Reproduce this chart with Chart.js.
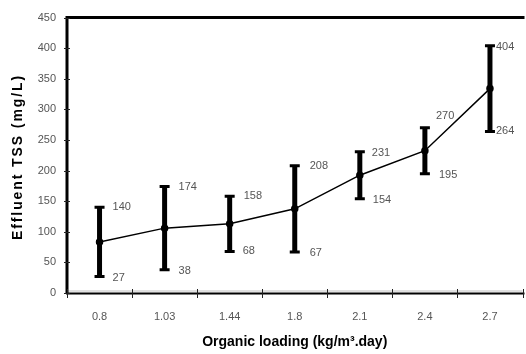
<!DOCTYPE html>
<html>
<head>
<meta charset="utf-8">
<script src="https://cdn.jsdelivr.net/npm/chart.js@4/dist/chart.umd.min.js"></script>
<style>
  html, body { margin: 0; padding: 0; background: #fff; overflow: hidden; }
  #wrap { position: absolute; left: 0; top: 0; width: 528px; height: 354px; }
</style>
</head>
<body>
<div id="wrap"><canvas id="c" width="528" height="354"></canvas></div>
<script>
// Organic loading rates (kg/m3.day)
const categories = ['0.8', '1.03', '1.44', '1.8', '2.1', '2.4', '2.7'];
// Effluent TSS (mg/L): mean, minimum and maximum at each loading
const meanTSS = [83.5, 106, 113, 137.5, 192.5, 232.5, 334];
const minTSS  = [27, 38, 68, 67, 154, 195, 264];
const maxTSS  = [140, 174, 158, 208, 231, 270, 404];
// Y axis range
const yMin = 0, yMax = 450, yStep = 50;

const FONT = '"Liberation Sans", Arial, sans-serif';

// Frame, axis ticks, error bars, value labels and y title
const framePlugin = {
  id: 'frame',
  beforeDatasetsDraw(chart) {
    const { ctx, chartArea: a, scales: { x, y } } = chart;
    ctx.save();
    // faint line along the zero level
    ctx.strokeStyle = '#d6d6d6';
    ctx.lineWidth = 1.5;
    ctx.beginPath();
    ctx.moveTo(a.left, a.bottom - 2);
    ctx.lineTo(a.right, a.bottom - 2);
    ctx.stroke();
    // frame lines
    ctx.strokeStyle = '#000';
    ctx.lineWidth = 3;
    ctx.beginPath();
    ctx.moveTo(a.left, a.bottom);
    ctx.lineTo(a.left, a.top);
    ctx.lineTo(a.right + 2, a.top);
    ctx.stroke();
    ctx.lineWidth = 2;
    ctx.beginPath();
    ctx.moveTo(a.left - 1, a.bottom + 0.5);
    ctx.lineTo(a.right + 2, a.bottom + 0.5);
    ctx.stroke();
    // y tick marks crossing the axis
    ctx.lineWidth = 1;
    ctx.strokeStyle = '#222';
    y.ticks.forEach(t => {
      const py = Math.round(y.getPixelForValue(t.value)) + 0.5;
      ctx.beginPath();
      ctx.moveTo(a.left - 3, py);
      ctx.lineTo(a.left + 3, py);
      ctx.stroke();
    });
    // x tick marks at category boundaries
    for (let i = 0; i <= categories.length; i++) {
      const px = Math.round(x.getPixelForValue(i - 0.5)) + 0.5;
      ctx.beginPath();
      ctx.moveTo(px, a.bottom - 4);
      ctx.lineTo(px, a.bottom + 5);
      ctx.stroke();
    }
    // error bars (min to max)
    ctx.strokeStyle = '#000';
    categories.forEach((c, i) => {
      const px = x.getPixelForValue(i);
      const yt = y.getPixelForValue(maxTSS[i]);
      const yb = y.getPixelForValue(minTSS[i]);
      ctx.lineWidth = 5;
      ctx.beginPath();
      ctx.moveTo(px, yt);
      ctx.lineTo(px, yb);
      ctx.stroke();
      ctx.lineWidth = 3;
      ctx.beginPath();
      ctx.moveTo(px - 5, yt);
      ctx.lineTo(px + 5, yt);
      ctx.moveTo(px - 5, yb);
      ctx.lineTo(px + 5, yb);
      ctx.stroke();
    });
    ctx.restore();
  },
  afterDatasetsDraw(chart, args, opts) {
    const { ctx, scales: { x, y } } = chart;
    ctx.save();
    ctx.font = '11px ' + FONT;
    ctx.fillStyle = '#555';
    ctx.textAlign = 'left';
    ctx.textBaseline = 'middle';
    categories.forEach((c, i) => {
      const px = x.getPixelForValue(i);
      const up = opts.upperShift[i], lo = opts.lowerShift[i];
      ctx.fillText(String(maxTSS[i]), px + up[0], y.getPixelForValue(maxTSS[i]) + up[1]);
      ctx.fillText(String(minTSS[i]), px + lo[0], y.getPixelForValue(minTSS[i]) + lo[1]);
    });
    ctx.restore();
  },
  afterDraw(chart) {
    const { ctx } = chart;
    ctx.save();
    ctx.translate(18, 157);
    ctx.rotate(-Math.PI / 2);
    ctx.font = 'bold 14px ' + FONT;
    ctx.letterSpacing = '1.9px';
    ctx.fillStyle = '#000';
    ctx.textAlign = 'center';
    ctx.textBaseline = 'middle';
    ctx.fillText('Effluent TSS (mg/L)', 0, 0);
    ctx.restore();
  }
};

new Chart(document.getElementById('c'), {
  type: 'line',
  data: {
    labels: categories,
    datasets: [{
      data: meanTSS,
      borderColor: '#000',
      borderWidth: 1.5,
      backgroundColor: '#000',
      pointBackgroundColor: '#000',
      pointBorderColor: '#000',
      pointRadius: 3,
      tension: 0,
      fill: false
    }]
  },
  options: {
    responsive: false,
    animation: false,
    events: [],
    layout: { padding: { top: 13, left: 0, right: 1, bottom: 0 } },
    plugins: {
      legend: { display: false },
      tooltip: { enabled: false },
      frame: {
        upperShift: [[13, 0], [14, 0], [14, 0], [15, 0], [12, 1], [11, -12], [6, 1]],
        lowerShift: [[13, 1], [14, 1], [13, 0], [15, 1], [13, 1], [14, 1], [6, 0]]
      }
    },
    scales: {
      x: {
        offset: true,
        grid: { display: false, drawTicks: false },
        border: { display: false },
        ticks: { color: '#555', font: { family: FONT, size: 11 }, padding: 17, maxRotation: 0, autoSkip: false },
        title: {
          display: true,
          text: 'Organic loading (kg/m³.day)',
          color: '#000',
          font: { family: FONT, size: 14, weight: 'bold' },
          padding: { top: 0, bottom: 3 }
        },
        afterFit(s) { s.height = 61; }
      },
      y: {
        min: yMin,
        max: yMax,
        grid: { display: false, drawTicks: false },
        border: { display: false },
        ticks: { stepSize: yStep, color: '#555', font: { family: FONT, size: 11 }, padding: 11 },
        afterFit(s) { s.width = 67; }
      }
    }
  },
  plugins: [framePlugin]
});
</script>
</body>
</html>
